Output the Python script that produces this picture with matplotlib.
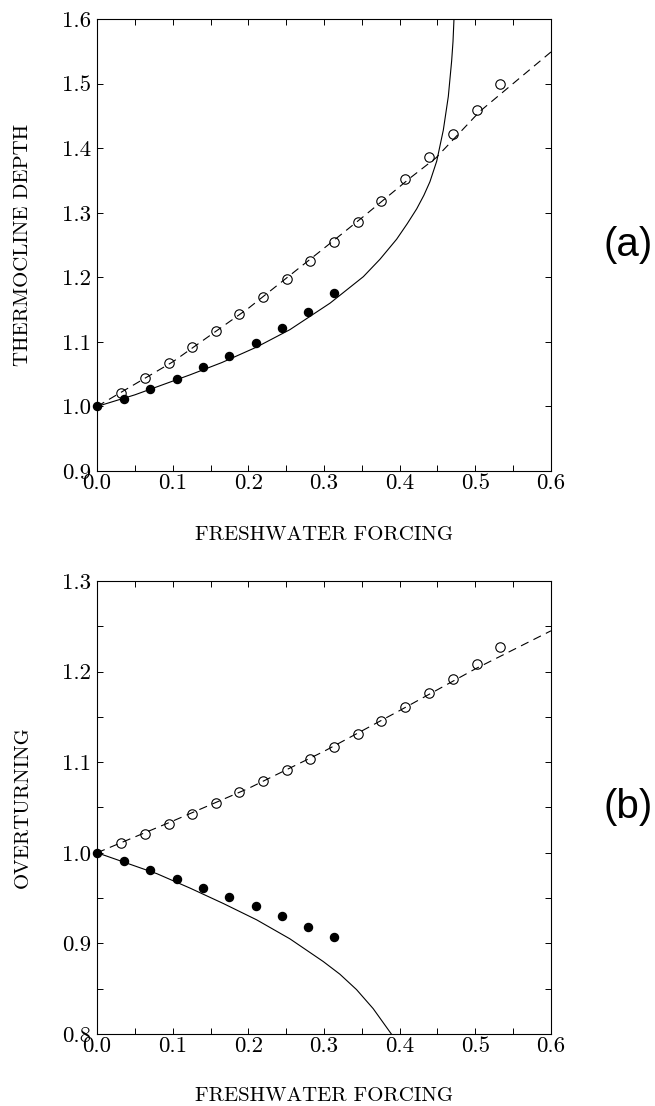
import numpy as np
import matplotlib
matplotlib.use("Agg")
import matplotlib.pyplot as plt
from matplotlib.ticker import MultipleLocator, FormatStrFormatter

plt.rcParams['font.family'] = 'cmr10'
plt.rcParams['axes.formatter.use_mathtext'] = True
plt.rcParams['lines.scale_dashes'] = False

# ---- panel (a): thermocline depth ----
a_open_x = [0.0314, 0.0631, 0.0948, 0.126, 0.157, 0.188, 0.220, 0.251, 0.282,
            0.3136, 0.3448, 0.3757, 0.4076, 0.4387, 0.4705, 0.5018, 0.533]
a_open_y = [1.021, 1.0445, 1.0668, 1.0916, 1.1164, 1.143, 1.1695, 1.197, 1.225,
            1.2551, 1.2852, 1.3182, 1.3518, 1.3868, 1.4224, 1.4586, 1.4989]
a_fill_x = [0.0, 0.0357, 0.0705, 0.1053, 0.140, 0.1749, 0.2097, 0.2445, 0.2793, 0.3136]
a_fill_y = [1.0, 1.012, 1.0265, 1.0425, 1.0606, 1.0786, 1.0982, 1.1215, 1.1462, 1.176]
a_solid_x = [0.0, 0.05, 0.123, 0.165, 0.211, 0.255, 0.308, 0.352, 0.374, 0.396, 0.410,
             0.4225, 0.432, 0.440, 0.449, 0.4577, 0.4643, 0.4687, 0.4705, 0.4718]
a_solid_y = [1.0, 1.018, 1.049, 1.068, 1.092, 1.119, 1.160, 1.201, 1.228, 1.259, 1.283,
             1.306, 1.327, 1.348, 1.380, 1.428, 1.480, 1.535, 1.565, 1.600]
a_dash_x = [0.0, 0.1, 0.2, 0.3, 0.352, 0.414, 0.448, 0.506, 0.555, 0.6]
a_dash_y = [1.0, 1.069, 1.152, 1.245, 1.294, 1.354, 1.385, 1.457, 1.505, 1.549]

# ---- panel (b): overturning ----
b_open_x = a_open_x
b_open_y = [1.0105, 1.0208, 1.0318, 1.043, 1.055, 1.0668, 1.0792, 1.0914, 1.1039,
            1.117, 1.1308, 1.1458, 1.1611, 1.1762, 1.1919, 1.2088, 1.2274]
b_fill_x = a_fill_x
b_fill_y = [1.0, 0.9909, 0.981, 0.9714, 0.9615, 0.9512, 0.941, 0.930, 0.9185, 0.907]
b_solid_x = [0.0, 0.0106, 0.079, 0.123, 0.167, 0.211, 0.255, 0.299, 0.321, 0.343, 0.365, 0.389]
b_solid_y = [1.0, 0.997, 0.977, 0.961, 0.944, 0.926, 0.905, 0.880, 0.866, 0.849, 0.828, 0.800]
b_dash_x = [0.0, 0.1, 0.2, 0.3, 0.4, 0.5, 0.6]
b_dash_y = [1.0, 1.035, 1.071, 1.112, 1.157, 1.203, 1.245]

fig = plt.figure(figsize=(6.55, 11.06), dpi=100)
ax1 = fig.add_axes([0.1481, 0.5741, 0.6931, 0.4087])
ax2 = fig.add_axes([0.1481, 0.0651, 0.6931, 0.4096])


def draw_panel(ax, ox, oy, fx, fy, sx, sy, dx, dy, ylim, ystep, ylabel, tag, xl_y):
    ax.plot(sx, sy, color='black', lw=0.8, solid_joinstyle='round')
    ax.plot(dx, dy, color='black', lw=0.8, linestyle=(0, (6, 4)))
    ax.plot(ox, oy, 'o', mfc='none', mec='black', mew=0.8, ms=6.8, clip_on=False)
    ax.plot(fx, fy, 'o', color='black', ms=5.8, clip_on=False)
    ax.set_xlim(0, 0.6)
    ax.set_ylim(*ylim)
    ax.xaxis.set_major_locator(MultipleLocator(0.1))
    ax.xaxis.set_minor_locator(MultipleLocator(0.05))
    ax.yaxis.set_major_locator(MultipleLocator(0.1))
    if ystep:
        ax.yaxis.set_minor_locator(MultipleLocator(ystep))
    ax.xaxis.set_major_formatter(FormatStrFormatter('%.1f'))
    ax.yaxis.set_major_formatter(FormatStrFormatter('%.1f'))
    ax.tick_params(which='both', direction='in', top=True, right=True,
                   length=4.3, width=0.7, labelsize=16.5)
    ax.tick_params(axis='x', pad=1.5)
    ax.tick_params(axis='y', pad=4)
    for s in ax.spines.values():
        s.set_linewidth(0.8)
    ax.set_xlabel('FRESHWATER FORCING', fontsize=15)
    ax.xaxis.set_label_coords(0.5, xl_y)
    ax.set_ylabel(ylabel, fontsize=15)
    ax.yaxis.set_label_coords(-0.144, 0.5)
    ax.text(1.17, 0.5, tag, transform=ax.transAxes, ha='center', va='center',
            fontsize=29, family='Liberation Sans')


draw_panel(ax1, a_open_x, a_open_y, a_fill_x, a_fill_y, a_solid_x, a_solid_y,
           a_dash_x, a_dash_y, (0.9, 1.6), None, 'THERMOCLINE DEPTH', '(a)', -0.121)
draw_panel(ax2, b_open_x, b_open_y, b_fill_x, b_fill_y, b_solid_x, b_solid_y,
           b_dash_x, b_dash_y, (0.8, 1.3), 0.05, 'OVERTURNING', '(b)', -0.117)

fig.savefig('out.png', dpi=100)
